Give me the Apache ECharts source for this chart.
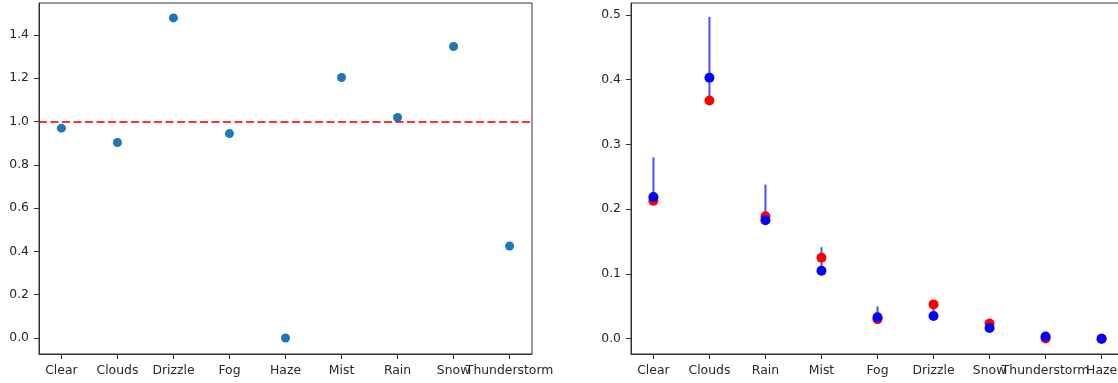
<!DOCTYPE html>
<html>
<head>
<meta charset="utf-8">
<script src="https://cdn.jsdelivr.net/npm/echarts@6/dist/echarts.min.js"></script>
<style>html,body{margin:0;padding:0;background:#fff}#c{width:1118px;height:383px}</style>
</head>
<body>
<div id="c"></div>
<script>
// Left panel
const leftCategories = ['Clear','Clouds','Drizzle','Fog','Haze','Mist','Rain','Snow','Thunderstorm'];
const leftValues = [0.969, 0.903, 1.478, 0.944, 0.0, 1.203, 1.018, 1.346, 0.425];
const leftRefLine = 1.0;
const leftYTicks = [0.0, 0.2, 0.4, 0.6, 0.8, 1.0, 1.2, 1.4];

// Right panel
const rightCategories = ['Clear','Clouds','Rain','Mist','Fog','Drizzle','Snow','Thunderstorm','Haze'];
const rightRed = [0.213, 0.368, 0.189, 0.125, 0.030, 0.053, 0.0236, 0.0005, 0.0];
const rightBlue = [0.219, 0.403, 0.183, 0.105, 0.033, 0.035, 0.0165, 0.0035, 0.0];
const rightLineLow = [0.213, 0.368, 0.183, 0.105, 0.030, 0.035, 0.0165, 0.0005, 0.0];
const rightLineHigh = [0.280, 0.497, 0.238, 0.1415, 0.050, 0.053, 0.0236, 0.0035, 0.0];
const rightYTicks = [0.0, 0.1, 0.2, 0.3, 0.4, 0.5];

const FONT = 'DejaVu Sans';
const TXT = '#262626';
const AX = '#333333';

// main x axis: line, ticks and even-index labels; secondary: odd-index labels only
function xAxesFor(gridIndex, cats) {
  const idx = cats.map((_, i) => i);
  const even = idx.filter(i => i % 2 === 0);
  const odd = idx.filter(i => i % 2 === 1);
  const base = {
    type: 'value', gridIndex, min: -0.4, max: cats.length - 1 + 0.4,
    splitLine: {show: false}, position: 'bottom'
  };
  const lab = (vals) => ({show: true, customValues: vals, margin: 11, color: TXT, fontFamily: FONT, fontSize: 12.4,
      hideOverlap: false, showMinLabel: true, showMaxLabel: true,
      formatter: v => cats[Math.round(v)] || ''});
  return [
    Object.assign({}, base, {
      axisLine: {show: true, onZero: false, lineStyle: {color: AX, width: 1}},
      axisTick: {show: true, length: 5, lineStyle: {color: AX}, customValues: idx},
      axisLabel: lab(even)
    }),
    Object.assign({}, base, {
      axisLine: {show: false, onZero: false},
      axisTick: {show: false},
      axisLabel: lab(odd)
    })
  ];
}
function yAxisFor(gridIndex, min, max, ticks) {
  return {
    type: 'value', gridIndex, min, max,
    splitLine: {show: false},
    axisLine: {show: true, onZero: false, lineStyle: {color: AX, width: 1}},
    axisTick: {show: true, length: 5, lineStyle: {color: AX}, customValues: ticks},
    axisLabel: {show: true, customValues: ticks, margin: 10, color: TXT, fontFamily: FONT, fontSize: 12.4,
      hideOverlap: false, formatter: v => v.toFixed(1)}
  };
}

const chart = echarts.init(document.getElementById('c'), null, {renderer: 'canvas'});
chart.setOption({
  animation: false,
  grid: [
    {left: 39, top: 3, width: 493, height: 351, show: true, borderColor: AX, borderWidth: 1,
     backgroundColor: 'transparent', outerBoundsMode: 'none', containLabel: false},
    {left: 631, top: 3, width: 493, height: 351, show: true, borderColor: AX, borderWidth: 1,
     backgroundColor: 'transparent', outerBoundsMode: 'none', containLabel: false}
  ],
  xAxis: [...xAxesFor(0, leftCategories), ...xAxesFor(1, rightCategories)],
  yAxis: [yAxisFor(0, -0.074, 1.547, leftYTicks), yAxisFor(1, -0.0236, 0.5185, rightYTicks)],
  series: [
    {
      type: 'scatter', xAxisIndex: 0, yAxisIndex: 0,
      data: leftValues.map((v, i) => [i, v]),
      symbolSize: 9, itemStyle: {color: '#1f77b4', opacity: 1},
      markLine: {
        silent: true, symbol: ['none', 'none'], label: {show: false},
        lineStyle: {color: 'rgba(255,0,0,0.8)', type: [8, 3.5], width: 2},
        data: [{yAxis: leftRefLine}]
      },
      z: 3
    },
    {
      type: 'custom', xAxisIndex: 2, yAxisIndex: 1,
      data: rightLineLow.map((v, i) => [i, v, rightLineHigh[i]]),
      renderItem: (params, api) => {
        const p1 = api.coord([api.value(0), api.value(1)]);
        const p2 = api.coord([api.value(0), api.value(2)]);
        return {type: 'line', shape: {x1: p1[0], y1: p1[1], x2: p2[0], y2: p2[1]},
          style: {stroke: 'rgba(0,0,255,0.7)', lineWidth: 2}};
      },
      z: 2
    },
    {
      type: 'scatter', xAxisIndex: 2, yAxisIndex: 1,
      data: rightRed.map((v, i) => [i, v]),
      symbolSize: 10, itemStyle: {color: '#ff0000', opacity: 1}, z: 3
    },
    {
      type: 'scatter', xAxisIndex: 2, yAxisIndex: 1,
      data: rightBlue.map((v, i) => [i, v]),
      symbolSize: 10, itemStyle: {color: '#0000ff', opacity: 1}, z: 4
    }
  ]
});
</script>
</body>
</html>
